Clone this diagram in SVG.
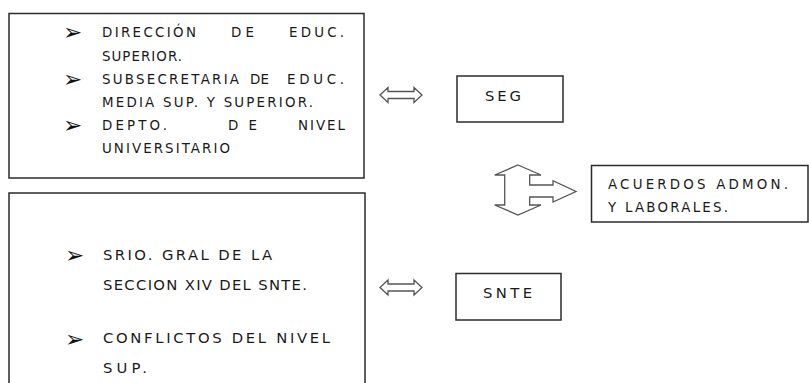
<svg xmlns="http://www.w3.org/2000/svg" xmlns:xlink="http://www.w3.org/1999/xlink" width="809" height="383" viewBox="0 0 809 383">
<style>
.box{fill:#fff;stroke:#2b2b2b;stroke-width:1.5}
.t{font-family:"DejaVu Sans","Liberation Sans",sans-serif;fill:#1a1a1a;font-size:13.4px}
.tb{font-family:"DejaVu Sans","Liberation Sans",sans-serif;fill:#1a1a1a;font-size:14.8px}
.bl{font-family:"DejaVu Sans",sans-serif;fill:#111;font-size:23px}
.arr{fill:#fff;stroke:#555;stroke-width:1.3;stroke-linejoin:miter}
</style>
<defs>
<path id="dbl" d="M380,0 L388,-7.5 L388,-3.5 L414,-3.5 L414,-7.5 L422,0 L414,7.5 L414,3.5 L388,3.5 L388,7.5 Z"/>
</defs>
<rect width="809" height="383" fill="#fff"/>
<g id="node-top">
<rect class="box" x="9" y="13.5" width="355" height="164.5"/>
<text class="bl" x="63" y="40">➢</text>
<text class="t" x="102" y="37" textLength="94" lengthAdjust="spacing">DIRECCIÓN</text>
<text class="t" x="231" y="37" textLength="23" lengthAdjust="spacing">DE</text>
<text class="t" x="289" y="37" textLength="55" lengthAdjust="spacing">EDUC.</text>
<text class="t" x="102" y="60.5" textLength="80" lengthAdjust="spacing">SUPERIOR.</text>
<text class="bl" x="63" y="87">➢</text>
<text class="t" x="102" y="84" textLength="137" lengthAdjust="spacing">SUBSECRETARIA</text>
<text class="t" x="250" y="84" textLength="19" lengthAdjust="spacing">DE</text>
<text class="t" x="287" y="84" textLength="57" lengthAdjust="spacing">EDUC.</text>
<text class="t" x="102" y="107" textLength="211" lengthAdjust="spacing">MEDIA SUP. Y SUPERIOR.</text>
<text class="bl" x="63" y="133">➢</text>
<text class="t" x="102" y="130" textLength="65" lengthAdjust="spacing">DEPTO.</text>
<text class="t" x="228" y="130" textLength="29" lengthAdjust="spacing">DE</text>
<text class="t" x="298" y="130" textLength="47" lengthAdjust="spacing">NIVEL</text>
<text class="t" x="102" y="153" textLength="128" lengthAdjust="spacing">UNIVERSITARIO</text>
</g>
<g id="node-bottom">
<rect class="box" x="9" y="193" width="356" height="200"/>
<text class="bl" x="65" y="263" font-size="24">➢</text>
<text class="tb" x="103" y="259.5" textLength="169" lengthAdjust="spacing">SRIO. GRAL DE LA</text>
<text class="tb" x="103" y="290" textLength="204" lengthAdjust="spacing">SECCION XIV DEL SNTE.</text>
<text class="bl" x="65" y="346.5" font-size="24">➢</text>
<text class="tb" x="103" y="343" textLength="227" lengthAdjust="spacing">CONFLICTOS DEL NIVEL</text>
<text class="tb" x="103" y="373" textLength="44" lengthAdjust="spacing">SUP.</text>
</g>
<g id="node-seg">
<rect class="box" x="457" y="76" width="106" height="46"/>
<text class="tb" x="485" y="101" textLength="36" lengthAdjust="spacing">SEG</text>
</g>
<g id="node-snte">
<rect class="box" x="456" y="273.5" width="105" height="46.5"/>
<text class="tb" x="483" y="298" textLength="49" lengthAdjust="spacing">SNTE</text>
</g>
<g id="node-acuerdos">
<rect class="box" x="591.5" y="165.5" width="216.5" height="56.5"/>
<text class="t" x="608" y="189" textLength="180" lengthAdjust="spacing">ACUERDOS  ADMON.</text>
<text class="t" x="608" y="212" textLength="120" lengthAdjust="spacing">Y LABORALES.</text>
</g>
<g id="connectors">
<use xlink:href="#dbl" class="arr" transform="translate(0,95)"/>
<use xlink:href="#dbl" class="arr" transform="translate(0,287.5)"/>
<path class="arr" d="M518,165 L541,175 L529.7,175 L529.7,185 L553,185 L553,180.7 L576,191.5 L553,202 L553,197 L529.7,197 L529.7,205 L541,205 L518,215 L494.7,205 L504.7,205 L504.7,175 L494.7,175 Z"/>
</g>
</svg>
